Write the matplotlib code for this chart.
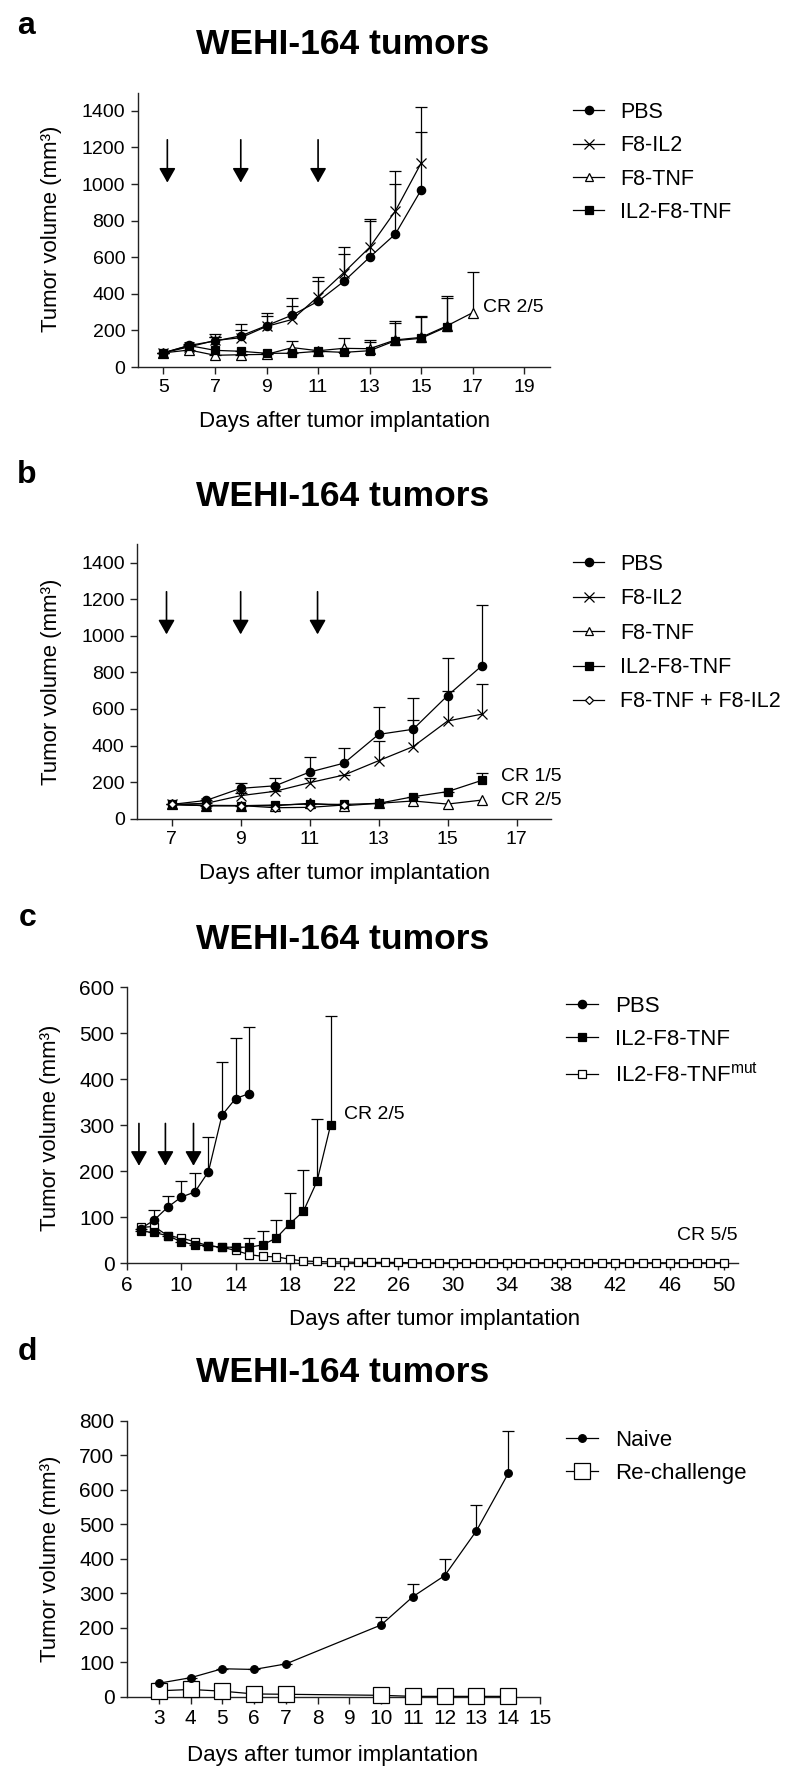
import numpy as np
import matplotlib
matplotlib.use("Agg")
import matplotlib.pyplot as plt
from matplotlib import font_manager
from matplotlib.lines import Line2D

# ---------------- data ----------------
# Panel a
days_a_long = [5, 6, 7, 8, 9, 10, 11, 12, 13, 14, 15]
pbs_a = [78, 118, 142, 170, 226, 284, 359, 468, 600, 727, 968]
pbs_a_err = [0, 10, 37, 32, 53, 50, 113, 150, 200, 272, 319]
f8il2_a = [78, 110, 145, 160, 222, 260, 385, 516, 654, 853, 1115]
f8il2_a_err = [0, 10, 21, 73, 71, 119, 109, 142, 154, 221, 305]
days_a_tnf = [5, 6, 7, 8, 9, 10, 11, 12, 13, 14, 15, 16, 17]
f8tnf_a = [77, 93, 64, 67, 69, 106, 89, 102, 100, 148, 162, 225, 297]
f8tnf_a_err = [0, 0, 0, 0, 0, 38, 0, 57, 48, 104, 119, 165, 224]
days_a_il2tnf = [5, 6, 7, 8, 9, 10, 11, 12, 13, 14, 15, 16]
il2f8tnf_a = [77, 117, 91, 86, 75, 75, 86, 80, 89, 144, 157, 220]
il2f8tnf_a_err = [0, 0, 75, 0, 0, 0, 0, 0, 50, 96, 118, 155]
arrows_a_x = [5.15, 8.0, 11.0]

# Panel b
days_b = [7, 8, 9, 10, 11, 12, 13, 14, 15, 16]
pbs_b = [78, 100, 166, 180, 255, 304, 461, 489, 673, 837]
pbs_b_err = [0, 0, 31, 44, 82, 80, 151, 171, 206, 334]
f8il2_b = [78, 84, 126, 150, 197, 239, 317, 394, 534, 572]
f8il2_b_err = [0, 0, 17, 0, 25, 0, 106, 147, 163, 166]
f8tnf_b = [78, 71, 71, 71, 84, 71, 84, 97, 80, 102]
il2f8tnf_b = [78, 71, 71, 75, 80, 78, 84, 120, 148, 210]
il2f8tnf_b_err = [0, 0, 0, 0, 0, 0, 0, 0, 0, 42]
days_b_combo = [7, 8, 9, 10, 11, 12]
combo_b = [78, 73, 72, 60, 62, 75]
arrows_b_x = [6.85, 9.0, 11.23]

# Panel c
days_c_pbs = [7, 8, 9, 10, 11, 12, 13, 14, 15]
pbs_c = [75, 94, 122, 144, 155, 199, 322, 358, 369]
pbs_c_err = [0, 21, 25, 35, 41, 76, 115, 131, 145]
days_c_il2 = [7, 8, 9, 10, 11, 12, 13, 14, 15, 16, 17, 18, 19, 20, 21]
il2f8tnf_c = [70, 67, 60, 47, 40, 38, 35, 35, 35, 40, 55, 86, 113, 178, 300]
il2f8tnf_c_err = [0, 0, 0, 0, 0, 0, 0, 0, 20, 30, 39, 66, 90, 135, 238]
days_c_mut = list(range(7, 51))
mut_c = [78, 80, 60, 55, 47, 38, 35, 28, 19, 15, 14, 9, 5, 4,
         3, 3, 2, 2, 2, 2, 1, 1, 1, 1, 1, 1, 1, 1, 1, 1,
         1, 1, 1, 1, 1, 1, 1, 1, 1, 1, 1, 1, 1, 1]
arrows_c_x = [6.88, 8.83, 10.9]

# Panel d
days_d = [3, 4, 5, 6, 7, 10, 11, 12, 13, 14]
naive_d = [39, 55, 81, 79, 95, 208, 290, 351, 481, 647]
naive_d_err = [0, 0, 0, 0, 0, 22, 36, 47, 76, 124]
rechallenge_d = [17, 21, 16, 8, 7, 4, 1, 1, 1, 1]

# ---------------- fonts ----------------
names = {f.name for f in font_manager.fontManager.ttflist}
REG = 'Liberation Sans' if 'Liberation Sans' in names else 'DejaVu Sans'
NAR = 'Liberation Sans Narrow' if 'Liberation Sans Narrow' in names else REG
plt.rcParams['font.family'] = [REG, 'DejaVu Sans']
plt.rcParams['mathtext.fontset'] = 'custom'
plt.rcParams['mathtext.rm'] = NAR
plt.rcParams['mathtext.it'] = NAR

W, H = 800, 1784
fig = plt.figure(figsize=(W / 100, H / 100), dpi=100)


def P(x, y):
    return (x / W, 1 - y / H)


def make_axes(left, right, ybot, ytop):
    ax = fig.add_axes([left / W, 1 - ybot / H, (right - left) / W, (ybot - ytop) / H])
    for s in ['top', 'right']:
        ax.spines[s].set_visible(False)
    for s in ['left', 'bottom']:
        ax.spines[s].set_linewidth(1.0)
        ax.spines[s].set_color('#222222')
    ax.tick_params(direction='out', length=5, width=1.0, color='#222222', pad=4)
    return ax


def series(ax, x, y, err=None, marker='o', mfc='k', ms=6, mew=0.9, label=None):
    if err is not None:
        e = np.array(err, dtype=float)
        _, caps, _ = ax.errorbar(x, y, yerr=[np.zeros_like(e), e], fmt='none',
                                 ecolor='k', elinewidth=0.9, capsize=4, capthick=0.9,
                                 zorder=2)
        caps[0].set_visible(False)
    ax.plot(x, y, color='k', lw=0.9, marker=marker, ms=ms, mfc=mfc, mec='k',
            mew=mew, zorder=3, label=label, clip_on=False)


def arrows(ax, xs, top, tip):
    for x in xs:
        ax.annotate('', xy=(x, tip), xytext=(x, top),
                    arrowprops=dict(arrowstyle='-|>,head_length=0.7,head_width=0.4',
                                    color='k', lw=1.2, mutation_scale=12.5,
                                    shrinkA=0, shrinkB=0))


def legend(ax, handles_spec, x, y, font, fs, pitch):
    handles = []
    labels = []
    for lab, mk, mfc, ms in handles_spec:
        handles.append(Line2D([0], [0], color='k', lw=0.9, marker=mk, mfc=mfc,
                              mec='k', ms=ms, mew=0.9))
        labels.append(lab)
    fig.legend(handles, labels, loc='upper left', bbox_to_anchor=P(x, y),
               frameon=False, borderpad=0, borderaxespad=0, handlelength=1.45,
               handletextpad=0.75, labelspacing=pitch,
               prop={'family': font, 'size': fs})


TITLE = 'WEHI-164 tumors'
XL = 'Days after tumor implantation'
YL = 'Tumor volume (mm³)'

# ---------------- panel a ----------------
ax = make_axes(137.7, 550, 367, 92.6)
series(ax, days_a_long, pbs_a, pbs_a_err, 'o', 'k', 6)
series(ax, days_a_long, f8il2_a, f8il2_a_err, 'x', 'k', 7)
series(ax, days_a_tnf, f8tnf_a, f8tnf_a_err, '^', 'white', 6.5)
series(ax, days_a_il2tnf, il2f8tnf_a, il2f8tnf_a_err, 's', 'k', 5.5)
arrows(ax, arrows_a_x, 1242, 1008)
ax.set_xlim(4, 20)
ax.set_ylim(0, 1500)
ax.set_xticks(range(5, 20, 2))
ax.set_yticks(range(0, 1401, 200))
for t in ax.get_xticklabels() + ax.get_yticklabels():
    t.set_fontsize(14)
ax.text(17.4, 323, 'CR 2/5', fontsize=14, va='center', ha='left')
fig.text(*P(26, 26), 'a', fontsize=23, fontweight='bold', ha='center', va='center')
fig.text(*P(343, 45), TITLE, fontsize=25.5, fontweight='bold', ha='center', va='center')
fig.text(*P(345, 422), XL, fontsize=16, ha='center', va='center')
fig.text(*P(52, 229), YL, fontsize=16, ha='center', va='center', rotation=90)
legend(ax, [('PBS', 'o', 'k', 6), ('F8-IL2', 'x', 'k', 6.5),
            ('F8-TNF', '^', 'white', 6), ('IL2-F8-TNF', 's', 'k', 5.5)],
       573, 102, REG, 15.5, 0.57)

# ---------------- panel b ----------------
ax = make_axes(137.2, 551, 818.7, 544.4)
series(ax, days_b, pbs_b, pbs_b_err, 'o', 'k', 6)
series(ax, days_b, f8il2_b, f8il2_b_err, 'x', 'k', 7)
series(ax, days_b, f8tnf_b, None, '^', 'white', 6.5)
series(ax, days_b, il2f8tnf_b, il2f8tnf_b_err, 's', 'k', 5.5)
series(ax, days_b_combo, combo_b, None, 'D', 'white', 4.5)
arrows(ax, arrows_b_x, 1241, 1008)
ax.set_xlim(6, 18)
ax.set_ylim(0, 1500)
ax.set_xticks(range(7, 18, 2))
ax.set_yticks(range(0, 1401, 200))
for t in ax.get_xticklabels() + ax.get_yticklabels():
    t.set_fontsize(14)
ax.text(16.54, 230, 'CR 1/5', fontsize=14, va='center', ha='left')
ax.text(16.54, 102, 'CR 2/5', fontsize=14, va='center', ha='left')
fig.text(*P(27, 475), 'b', fontsize=23, fontweight='bold', ha='center', va='center')
fig.text(*P(343, 496), TITLE, fontsize=25.5, fontweight='bold', ha='center', va='center')
fig.text(*P(345, 874), XL, fontsize=16, ha='center', va='center')
fig.text(*P(52, 682), YL, fontsize=16, ha='center', va='center', rotation=90)
legend(ax, [('PBS', 'o', 'k', 6), ('F8-IL2', 'x', 'k', 6.5),
            ('F8-TNF', '^', 'white', 6), ('IL2-F8-TNF', 's', 'k', 5.5),
            ('F8-TNF + F8-IL2', 'D', 'white', 4.5)],
       573, 554, REG, 15.5, 0.62)

# ---------------- panel c ----------------
ax = make_axes(127, 737.6, 1263.3, 987.3)
series(ax, days_c_mut, mut_c, None, 's', 'white', 5.5)
series(ax, days_c_pbs, pbs_c, pbs_c_err, 'o', 'k', 6)
series(ax, days_c_il2, il2f8tnf_c, il2f8tnf_c_err, 's', 'k', 5.5)
arrows(ax, arrows_c_x, 304, 212)
ax.set_xlim(6, 51)
ax.set_ylim(0, 600)
ax.set_xticks(range(6, 51, 4))
ax.set_yticks(range(0, 601, 100))
for t in ax.get_xticklabels() + ax.get_yticklabels():
    t.set_fontsize(15)
    t.set_family(NAR)
ax.text(22.0, 324, 'CR 2/5', fontsize=14, va='center', ha='left', family=NAR)
ax.text(51, 61, 'CR 5/5', fontsize=14, va='center', ha='right', family=NAR)
fig.text(*P(28, 918), 'c', fontsize=23, fontweight='bold', ha='center', va='center')
fig.text(*P(343, 940), TITLE, fontsize=25.5, fontweight='bold', ha='center', va='center',
         family=NAR)
fig.text(*P(435, 1320), XL, fontsize=16, ha='center', va='center', family=NAR)
fig.text(*P(51, 1128), YL, fontsize=16, ha='center', va='center', rotation=90)
legend(ax, [('PBS', 'o', 'k', 6), ('IL2-F8-TNF', 's', 'k', 5.5),
            (r'IL2-F8-TNF$^{\mathrm{mut}}$', 's', 'white', 5.5)],
       566, 996, NAR, 16, 0.55)

# ---------------- panel d ----------------
ax = make_axes(127, 540, 1696.7, 1420.7)
series(ax, days_d, rechallenge_d, None, 's', 'white', 11)
series(ax, days_d, naive_d, naive_d_err, 'o', 'k', 5.5)
ax.set_xlim(2, 15)
ax.set_ylim(0, 800)
ax.set_xticks(range(3, 16))
ax.set_yticks(range(0, 801, 100))
for t in ax.get_xticklabels() + ax.get_yticklabels():
    t.set_fontsize(15)
    t.set_family(NAR)
fig.text(*P(27, 1352), 'd', fontsize=23, fontweight='bold', ha='center', va='center')
fig.text(*P(343, 1373), TITLE, fontsize=25.5, fontweight='bold', ha='center', va='center',
         family=NAR)
fig.text(*P(333, 1755), XL, fontsize=16, ha='center', va='center', family=NAR)
fig.text(*P(51, 1559), YL, fontsize=16, ha='center', va='center', rotation=90)
legend(ax, [('Naive', 'o', 'k', 5.5), ('Re-challenge', 's', 'white', 11)],
       566, 1430, NAR, 16, 0.55)

fig.savefig('out.png', dpi=100, facecolor='white')
